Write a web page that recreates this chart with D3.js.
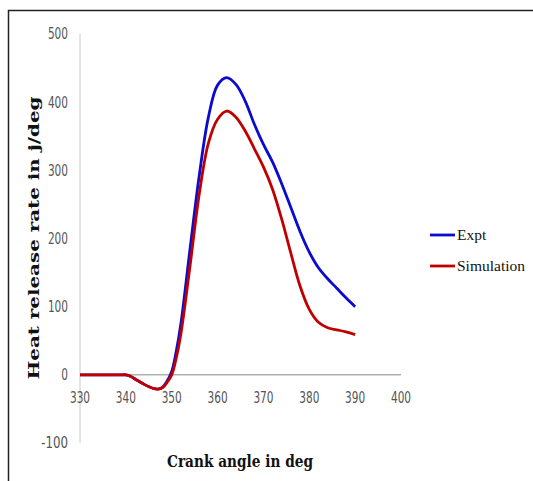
<!DOCTYPE html>
<html><head><meta charset="utf-8">
<script src="https://cdn.jsdelivr.net/npm/d3@7/dist/d3.min.js"></script>
<style>body{margin:0;background:#fff}svg{display:block}</style>
</head><body>
<script>
const angles = [330,335,338,339,340,341,342,344,346,347,348,349,350,351,352,354,356,358,360,362,364,366,368,370,372,374,376,378,380,382,384,386,388,390];
const expt =   [0,0,0,0,0,-2,-6,-14,-20,-21,-18,-9,5,35,75,185,292,378,425,436,426,402,368,338,312,280,245,210,180,157,141,127,113,100];
const simulation = [0,0,0,0,0,-2,-6,-14,-20,-21,-19,-11,0,25,60,160,265,340,375,387,378,358,332,305,272,228,178,130,96,77,69,66,63,59];
const xTicks = [330,340,350,360,370,380,390,400];
const yTicks = [-100,0,100,200,300,400,500];
const seriesNames = ["Expt","Simulation"];
const colors = ["#0a0ad0","#c00000"];

const W=533,H=481;
const svg=d3.select("body").append("svg").attr("width",W).attr("height",H);
svg.append("rect").attr("width",W).attr("height",H).attr("fill","#fff");
// frame
svg.append("path").attr("d","M8.5,481 L8.5,10.5 L533,10.5").attr("fill","none").attr("stroke","#222").attr("stroke-width",1.5);

const x=d3.scaleLinear().domain([330,400]).range([80,401]);
const y=d3.scaleLinear().domain([-100,500]).range([443,34]);

// y axis line
svg.append("line").attr("x1",x(330)).attr("x2",x(330)).attr("y1",y(500)).attr("y2",y(-100)).attr("stroke","#c8c8c8").attr("stroke-width",1);
// x axis line at 0
svg.append("line").attr("x1",x(330)).attr("x2",x(400)).attr("y1",y(0)).attr("y2",y(0)).attr("stroke","#8a8a8a").attr("stroke-width",1);

const tickFont='"DejaVu Sans Condensed","DejaVu Sans",sans-serif';
const tl = d => String(d).length*6.7;
svg.append("g").selectAll("text").data(yTicks).join("text")
  .attr("x",68).attr("y",d=>y(d)).attr("dy","0.36em").attr("text-anchor","end")
  .attr("font-family",tickFont).attr("font-size",15).attr("fill","#555")
  .attr("textLength",tl).attr("lengthAdjust","spacingAndGlyphs").text(d=>d);
svg.append("g").selectAll("text").data(xTicks).join("text")
  .attr("x",d=>x(d)).attr("y",y(0)+28.5).attr("text-anchor","middle")
  .attr("font-family",tickFont).attr("font-size",15).attr("fill","#555")
  .attr("textLength",tl).attr("lengthAdjust","spacingAndGlyphs").text(d=>d);

const line=d3.line().x((d,i)=>x(angles[i])).y(d=>y(d)).curve(d3.curveCatmullRom.alpha(0.5));
[expt,simulation].forEach((s,k)=>{
  svg.append("path").attr("d",line(s)).attr("fill","none").attr("stroke",colors[k]).attr("stroke-width",2.8).attr("stroke-linejoin","round");
});

// legend
seriesNames.forEach((n,k)=>{
  const ly=235+k*31;
  svg.append("line").attr("x1",430).attr("x2",455).attr("y1",ly).attr("y2",ly).attr("stroke",colors[k]).attr("stroke-width",2.8);
  svg.append("text").attr("x",457).attr("y",ly).attr("dy","0.35em").attr("font-family",'"Liberation Serif","Times New Roman",serif').attr("font-size",15.5).attr("fill","#111").text(n);
});

// axis titles
svg.append("text").attr("x",240).attr("y",467).attr("text-anchor","middle")
  .attr("font-family",'"DejaVu Serif",serif').attr("font-weight","bold").attr("font-size",17).attr("fill","#111")
  .attr("textLength",146).attr("lengthAdjust","spacingAndGlyphs").text("Crank angle in deg");
svg.append("text").attr("transform","translate(39,238) rotate(-90)").attr("text-anchor","middle")
  .attr("font-family",'"DejaVu Serif",serif').attr("font-weight","bold").attr("font-size",15.5).attr("fill","#111")
  .attr("textLength",283).attr("lengthAdjust","spacingAndGlyphs").text("Heat release rate in j/deg");
</script>
</body></html>
